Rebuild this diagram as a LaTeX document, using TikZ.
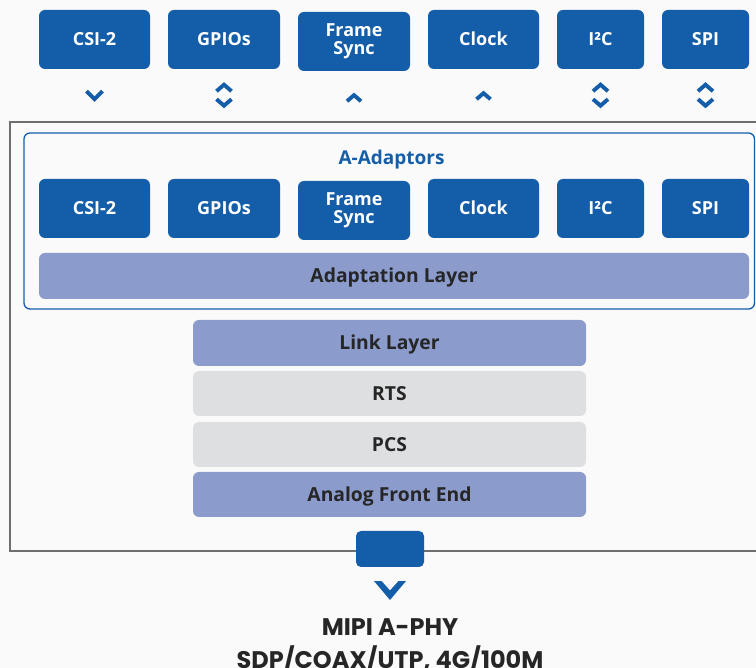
\documentclass[tikz,border=0pt]{standalone}
\usepackage{fontspec}
\setmainfont{Open Sans}
\newfontfamily\headfont{Poppins}
\usetikzlibrary{calc}
\definecolor{pagebg}{HTML}{FAFAFA}
\definecolor{mipiblue}{HTML}{145DA9}
\definecolor{layerpurple}{HTML}{8A9BCC}
\definecolor{layergray}{HTML}{DEDFE1}
\definecolor{darktext}{HTML}{262626}
\definecolor{framegray}{HTML}{6E6E6E}
\tikzset{
  iface/.style={draw=none, fill=mipiblue, rounded corners=6pt, text=white,
    font=\fontsize{18}{18}\selectfont\bfseries, align=center, inner sep=0pt,
    minimum height=59pt, text height=13pt, text depth=0pt},
  twoline/.style={text height=, text depth=, yshift=-2pt},
  layerbar/.style={draw=none, rounded corners=6pt, text=darktext,
    font=\fontsize{19.3}{19}\selectfont\bfseries, inner sep=0pt, minimum height=46pt,
    text height=14pt, text depth=0pt},
  chev/.style={draw=mipiblue, line width=3.9pt, miter limit=10},
  pics/chevdown/.style={code={\draw[chev] (-8,-4) -- (0,4) -- (8,-4);}},
  pics/chevup/.style={code={\draw[chev] (-7,3) -- (0,-3) -- (7,3);}},
  pics/chevboth/.style={code={
    \draw[chev] (-7.5,-4) -- (0,-10.5) -- (7.5,-4);
    \draw[chev] (-7.5,4) -- (0,10.5) -- (7.5,4);}},
  caption/.style={text=darktext, font=\headfont\fontsize{24}{24}\selectfont\bfseries},
}
\begin{document}
\begin{tikzpicture}[x=1pt,y=-1pt]
\useasboundingbox[fill=pagebg] (0,0) rectangle (756,668);

% outer device frame and adaptor group
\draw[framegray, line width=2pt] (10,122) rectangle (770,551);
\draw[mipiblue, line width=1.3pt, rounded corners=6pt] (24,133) rectangle (754.5,309);

% external interfaces
\node[iface, minimum width=111pt] (tcsi)   at (94.5,39.5) {CSI-2};
\node[iface, minimum width=112pt] (tgpio)  at (224,39.5)  {GPIOs};
\node[iface, twoline, minimum width=112pt] (tfs) at (354,39.5) {Frame\\Sync};
\node[iface, minimum width=111pt] (tclk)   at (483.5,39.5) {Clock};
\node[iface, minimum width=87pt]  (ti2c)   at (600.5,39.5) {I²C};
\node[iface, minimum width=87pt]  (tspi)   at (705.5,39.5) {SPI};

% direction marks
\pic at ($(tcsi.south)+(0,26)$)  {chevdown};
\pic at ($(tgpio.south)+(0,26)$) {chevboth};
\pic at ($(tfs.south)+(0,27)$)   {chevup};
\pic at ($(tclk.south)+(0,27)$)  {chevup};
\pic at ($(ti2c.south)+(0,26)$)  {chevboth};
\pic at ($(tspi.south)+(0,26)$)  {chevboth};

% A-Adaptors
\node[text=mipiblue, font=\fontsize{19}{19}\selectfont\bfseries, text height=14pt, text depth=0pt] (adtitle) at (391.5,158) {A-Adaptors};
\node[iface, minimum width=111pt] (acsi)   at (94.5,208.5) {CSI-2};
\node[iface, minimum width=112pt] (agpio)  at (224,208.5)  {GPIOs};
\node[iface, twoline, minimum width=112pt] (afs) at (354,208.5) {Frame\\Sync};
\node[iface, minimum width=111pt] (aclk)   at (483.5,208.5) {Clock};
\node[iface, minimum width=87pt]  (ai2c)   at (600.5,208.5) {I²C};
\node[iface, minimum width=87pt]  (aspi)   at (705.5,208.5) {SPI};
\node[layerbar, fill=layerpurple, minimum width=710pt] (adapt) at (394,276) {Adaptation Layer};

% protocol stack
\node[layerbar, fill=layerpurple, minimum width=393pt] (link) at (389.5,343)   {Link Layer};
\node[layerbar, fill=layergray,   minimum width=393pt, minimum height=45pt] (rts) at (389.5,393.5) {RTS};
\node[layerbar, fill=layergray,   minimum width=393pt, minimum height=45pt] (pcs) at (389.5,444.5) {PCS};
\node[layerbar, fill=layerpurple, minimum width=393pt, minimum height=45pt] (afe) at (389.5,494.5) {Analog Front End};

% PHY port and output
\node[fill=mipiblue, rounded corners=5pt, minimum width=68pt, minimum height=36pt, inner sep=0pt] (port) at (390,549) {};
\fill[mipiblue] (374,581) -- (381.5,581) -- (390,590.5) -- (398.5,581) -- (406,581) -- (390,600) -- cycle;
\node[caption] (phy) at (390,627) {MIPI A-PHY};
\node[caption] (media) at (390,659) {SDP/COAX/UTP, 4G/100M};
\end{tikzpicture}
\end{document}
